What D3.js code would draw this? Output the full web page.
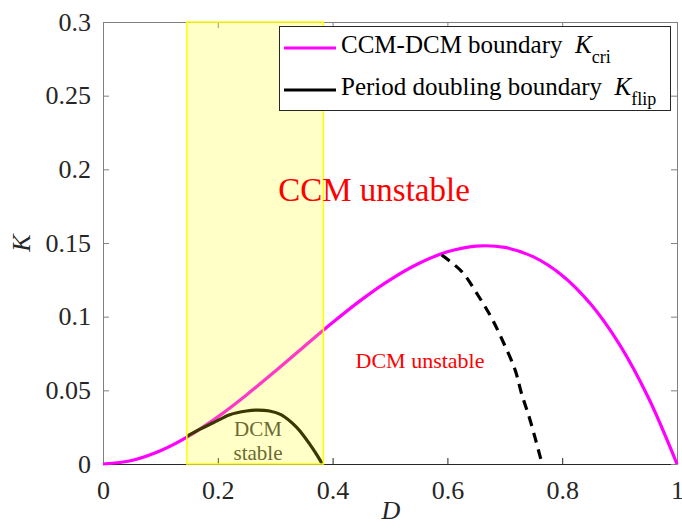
<!DOCTYPE html>
<html>
    <head>
        <title>K versus D boundaries</title>
        <meta charset="UTF-8">
        <script src="https://cdn.jsdelivr.net/npm/d3@7"></script>
    </head>
    <body style="margin:0">
        <script>
            // CCM-DCM boundary K_cri
            var dCri = [0, 0.05, 0.1, 0.15, 0.2, 0.25, 0.3, 0.35, 0.4, 0.45, 0.5,
                        0.55, 0.6, 0.65, 0.7, 0.75, 0.8, 0.85, 0.9, 0.95, 1];
            var kCri = [0, 0.0024, 0.009, 0.0191, 0.032, 0.0469, 0.063, 0.0796, 0.096, 0.1114, 0.125,
                        0.1361, 0.144, 0.1479, 0.147, 0.1406, 0.128, 0.1084, 0.081, 0.0451, 0];

            // period doubling boundary K_flip, solid part (inside the stable band)
            var dFlip = [0.146, 0.17, 0.192, 0.221, 0.25, 0.27, 0.29, 0.31, 0.337, 0.361, 0.372, 0.382];
            var kFlip = [0.0188, 0.0238, 0.028, 0.0335, 0.036, 0.0366, 0.036, 0.0335, 0.025, 0.013, 0.0065, 0];

            // K_flip, dashed part
            var dFlipDash = [0.59, 0.625, 0.653, 0.677, 0.697, 0.718, 0.729, 0.744, 0.765];
            var kFlipDash = [0.1419, 0.1306, 0.1147, 0.0991, 0.083, 0.0638, 0.048, 0.0299, 0];

            // stable band in D
            var band = [0.146, 0.384];

            var xTicks = [0, 0.2, 0.4, 0.6, 0.8, 1];
            var yTicks = [0, 0.05, 0.1, 0.15, 0.2, 0.25, 0.3];

            var serif = "Liberation Serif";
            var margin = {left: 103, top: 22},
                w = 574, h = 442;

            var svg = d3.select("body").append("svg")
                    .attr("width", 682)
                    .attr("height", 530);

            var x = d3.scaleLinear().domain([0, 1]).range([margin.left, margin.left + w]);
            var y = d3.scaleLinear().domain([0, 0.3]).range([margin.top + h, margin.top]);

            var line = d3.line()
                    .x(function (d) { return x(d[0]); })
                    .y(function (d) { return y(d[1]); })
                    .curve(d3.curveCatmullRom.alpha(0.5));

            //axes, ticks pointing inward, box on
            svg.append("g")
                    .attr("transform", "translate(0," + y(0) + ")")
                    .call(d3.axisBottom(x).tickValues(xTicks).tickSizeInner(-6).tickSizeOuter(0)
                            .tickFormat(function (d) { return d3.format("")(d); }))
                    .call(function (g) {
                        g.select(".domain").attr("stroke", "#262626");
                        g.selectAll("line").attr("stroke", "#262626");
                        g.selectAll("text").attr("y", 17).attr("fill", "#262626").attr("font-size", 26);
                    });

            svg.append("g")
                    .attr("transform", "translate(" + x(0) + ",0)")
                    .call(d3.axisLeft(y).tickValues(yTicks).tickSizeInner(-6).tickSizeOuter(0)
                            .tickFormat(function (d) { return d3.format("")(+d.toFixed(2)); }))
                    .call(function (g) {
                        g.select(".domain").attr("stroke", "#808080");
                        g.selectAll("line").attr("stroke", "#808080");
                        g.selectAll("text").attr("x", -12).attr("dy", "0.32em").attr("fill", "#262626").attr("font-size", 26);
                    });

            //top and right axes
            svg.append("g")
                    .attr("transform", "translate(0," + y(0.3) + ")")
                    .call(d3.axisTop(x).tickValues(xTicks).tickSizeInner(-6).tickSizeOuter(0).tickFormat(""))
                    .call(function (g) {
                        g.select(".domain").attr("stroke", "#808080");
                        g.selectAll("line").attr("stroke", "#808080");
                    });
            svg.append("g")
                    .attr("transform", "translate(" + x(1) + ",0)")
                    .call(d3.axisRight(y).tickValues(yTicks).tickSizeInner(-6).tickSizeOuter(0).tickFormat(""))
                    .call(function (g) {
                        g.select(".domain").attr("stroke", "#808080");
                        g.selectAll("line").attr("stroke", "#808080");
                    });

            //axis labels
            svg.append("text")
                    .attr("x", 391).attr("y", 519)
                    .attr("text-anchor", "middle")
                    .attr("font-size", 26).attr("font-style", "italic")
                    .attr("fill", "#262626")
                    .text("D");
            svg.append("text")
                    .attr("transform", "translate(30,243) rotate(-90)")
                    .attr("text-anchor", "middle")
                    .attr("font-size", 26).attr("font-style", "italic")
                    .attr("fill", "#262626")
                    .text("K");

            //curves
            svg.append("path")
                    .datum(d3.zip(dCri, kCri))
                    .attr("d", line)
                    .attr("fill", "none")
                    .attr("stroke", "#ff00ff")
                    .attr("stroke-width", 3.2);

            svg.append("path")
                    .datum(d3.zip(dFlip, kFlip))
                    .attr("d", line)
                    .attr("fill", "none")
                    .attr("stroke", "#000")
                    .attr("stroke-width", 3.2);

            svg.append("path")
                    .datum(d3.zip(dFlipDash, kFlipDash))
                    .attr("d", line)
                    .attr("fill", "none")
                    .attr("stroke", "#000")
                    .attr("stroke-width", 3.2)
                    .attr("stroke-dasharray", "10,7");

            //region texts
            svg.append("text")
                    .attr("x", 258).attr("y", 436)
                    .attr("text-anchor", "middle")
                    .attr("font-size", 21)
                    .attr("fill", "#404040")
                    .text("DCM");
            svg.append("text")
                    .attr("x", 258).attr("y", 460)
                    .attr("text-anchor", "middle")
                    .attr("font-size", 21)
                    .attr("fill", "#404040")
                    .text("stable");

            //transparent yellow band drawn over the curves
            svg.append("rect")
                    .attr("x", x(band[0]))
                    .attr("y", y(0.3))
                    .attr("width", x(band[1]) - x(band[0]))
                    .attr("height", y(0) - y(0.3))
                    .attr("fill", "#ffff00")
                    .attr("fill-opacity", 0.22)
                    .attr("stroke", "#ffff00")
                    .attr("stroke-width", 1.5);

            svg.append("text")
                    .attr("x", 374).attr("y", 201)
                    .attr("text-anchor", "middle")
                    .attr("font-size", 33)
                    .attr("fill", "#ff0000")
                    .text("CCM unstable");
            svg.append("text")
                    .attr("x", 420).attr("y", 368)
                    .attr("text-anchor", "middle")
                    .attr("font-size", 22)
                    .attr("fill", "#ff0000")
                    .text("DCM unstable");

            //legend
            var legend = svg.append("g");
            legend.append("rect")
                    .attr("x", 279.5).attr("y", 26.5)
                    .attr("width", 391).attr("height", 84)
                    .attr("fill", "#fff")
                    .attr("stroke", "#262626")
                    .attr("stroke-width", 1);

            var items = [
                {color: "#ff00ff", label: "CCM-DCM boundary\u00a0\u00a0", sub: "cri", yy: 48},
                {color: "#000", label: "Period doubling boundary\u00a0\u00a0", sub: "flip", yy: 90}
            ];
            items.forEach(function (it) {
                legend.append("line")
                        .attr("x1", 284).attr("x2", 336)
                        .attr("y1", it.yy).attr("y2", it.yy)
                        .attr("stroke", it.color)
                        .attr("stroke-width", 3.2);
                var t = legend.append("text")
                        .attr("x", 341).attr("y", it.yy + 5)
                        .attr("font-size", 25)
                        .attr("fill", "#000");
                t.append("tspan").text(it.label);
                t.append("tspan").attr("font-style", "italic").text("K");
                t.append("tspan").attr("dy", 10).attr("font-size", 18).text(it.sub);
            });

            //serif everywhere, set on each text directly
            svg.selectAll("text").attr("font-family", serif);
            svg.selectAll("g").attr("font-family", serif);
        </script>
    </body>
</html>
